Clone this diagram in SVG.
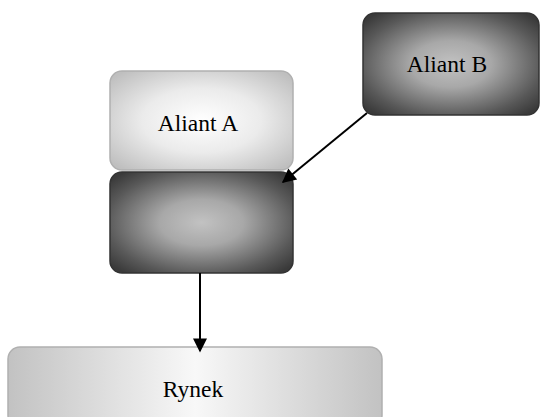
<svg xmlns="http://www.w3.org/2000/svg" width="540" height="417" viewBox="0 0 540 417">
<style>
text{font-family:"Liberation Serif","Times New Roman",serif;font-size:23.5px;fill:#000;text-anchor:middle}
.edge{stroke:#000;stroke-width:2;fill:none}
</style>
<defs>
<radialGradient id="light" cx="50%" cy="50%" r="65%">
<stop offset="0" stop-color="#ffffff"/>
<stop offset="0.5" stop-color="#ebebeb"/>
<stop offset="1" stop-color="#bfbfbf"/>
</radialGradient>
<radialGradient id="dark" cx="50%" cy="50%" r="65%">
<stop offset="0" stop-color="#c2c2c2"/>
<stop offset="0.35" stop-color="#a8a8a8"/>
<stop offset="0.8" stop-color="#585858"/>
<stop offset="1" stop-color="#3a3a3a"/>
</radialGradient>
<linearGradient id="wide" x1="0" y1="0" x2="1" y2="0">
<stop offset="0" stop-color="#c2c2c2"/>
<stop offset="0.5" stop-color="#f8f8f8"/>
<stop offset="1" stop-color="#c2c2c2"/>
</linearGradient>
<marker id="ah" viewBox="0 0 10 10" refX="9" refY="5" markerWidth="8" markerHeight="7" orient="auto" markerUnits="strokeWidth">
<path d="M0,0 L10,5 L0,10 z" fill="#000"/>
</marker>
</defs>
<g id="aliant-a">
<rect x="110" y="71" width="183" height="99" rx="12" fill="url(#light)" stroke="#b0b0b0" stroke-width="1.5"/>
<text x="198" y="131">Aliant A</text>
</g>
<g id="middle">
<rect x="110" y="172" width="183" height="101" rx="12" fill="url(#dark)" stroke="#333" stroke-width="1.5"/>
</g>
<g id="aliant-b">
<rect x="363" y="13" width="176" height="102" rx="12" fill="url(#dark)" stroke="#333" stroke-width="1.5"/>
<text x="447" y="72">Aliant B</text>
</g>
<g id="rynek">
<rect x="8" y="347" width="374" height="80" rx="12" fill="url(#wide)" stroke="#b0b0b0" stroke-width="1.5"/>
<text x="193" y="397">Rynek</text>
</g>
<g id="connectors">
<line class="edge" x1="367" y1="113" x2="283" y2="182" marker-end="url(#ah)"/>
<line class="edge" x1="200" y1="273" x2="200" y2="351" marker-end="url(#ah)"/>
</g>
</svg>
